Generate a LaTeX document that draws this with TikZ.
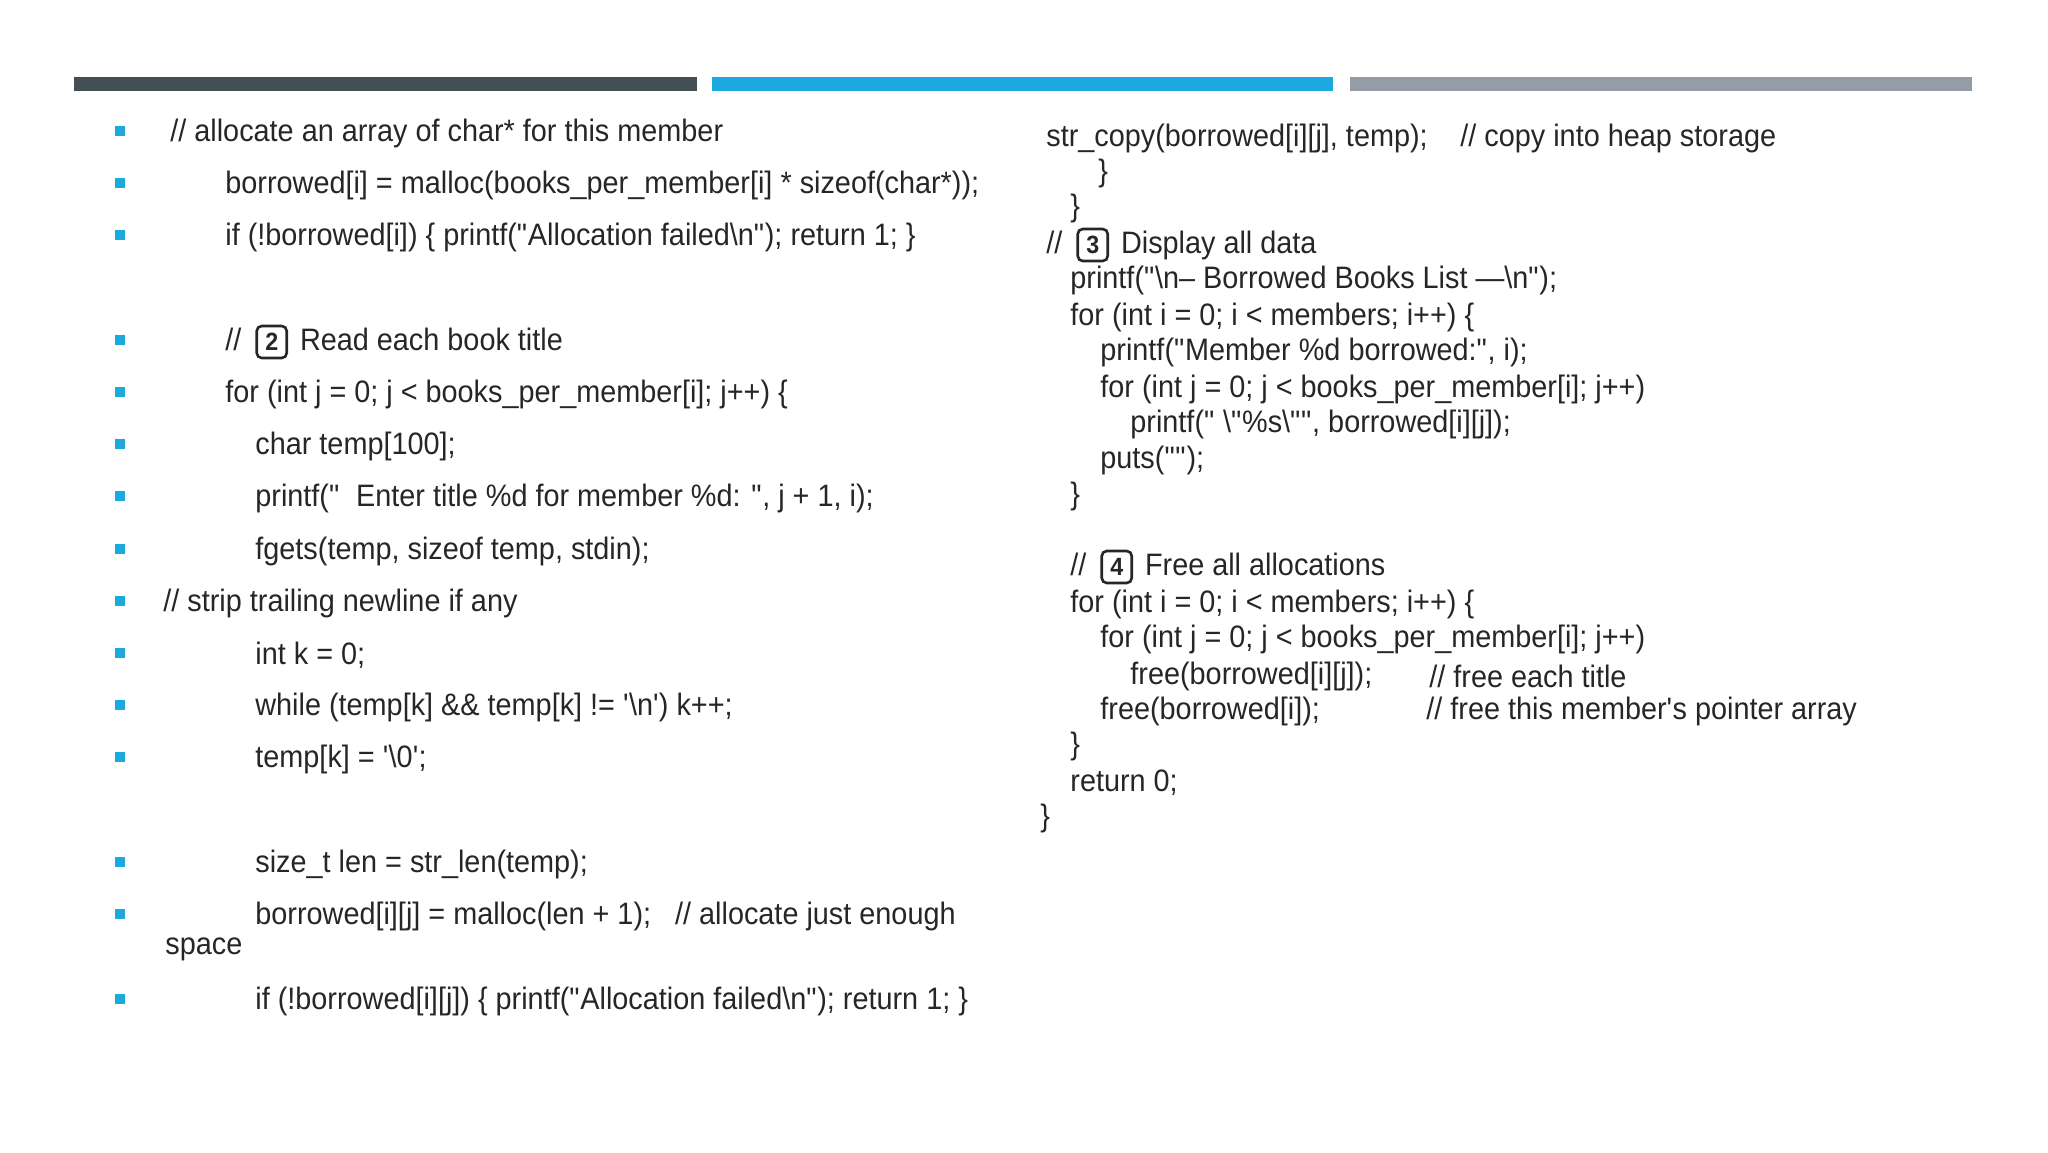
\documentclass[tikz,border=0pt]{standalone}
\usepackage{fontspec}
\setmainfont{Liberation Sans}[FakeStretch=0.93]
\definecolor{bblue}{HTML}{1CA9E0}
\definecolor{bdark}{HTML}{434E55}
\definecolor{bgray}{HTML}{949CA5}
\definecolor{tx}{HTML}{262626}
\newcommand{\q}{\textquotedbl}
\newcommand{\sq}{\textquotesingle}
\newcommand{\kc}[1]{\hspace{3pt}\tikz[baseline=(k.base)]\node[draw=tx,line width=1.3pt,rounded corners=2.5pt,inner sep=1.5pt,minimum width=15pt,minimum height=16pt,font=\bfseries\fontsize{12.5}{12}\selectfont](k){#1};\hspace{2pt}}
\begin{document}
\begin{tikzpicture}[x=0.5pt,y=-0.5pt,
  ln/.style={anchor=west,inner sep=0pt,font=\fontsize{15.5}{17}\selectfont,text=tx},
  bul/.style={fill=bblue,minimum size=5pt,inner sep=0pt}]
\useasboundingbox (0,0) rectangle (2048,1152);
\fill[bdark] (74,77) rectangle (697,91);
\fill[bblue] (712,77) rectangle (1333,91);
\fill[bgray] (1350,77) rectangle (1972,91);
% bullets
\foreach \y [count=\i] in {131,183,235,340,392,444,496,549,601,653,705,757,862,914,999}
  \node[bul] (b\i) at (120,\y) {};
\begin{scope}[yshift=-1pt]
% left column
\node[ln] (l1) at (170,131) {// allocate an array of char* for this member};
\node[ln] (l2) at (225,183) {borrowed[i] = malloc(books\_per\_member[i] * sizeof(char*));};
\node[ln] (l3) at (225,235) {if (!borrowed[i]) \{ printf(\q Allocation failed\textbackslash n\q); return 1; \}};
\node[ln] (l4) at (225,340) {// \kc{2}\ Read each book title};
\node[ln] (l5) at (225,392) {for (int j = 0; j < books\_per\_member[i]; j++) \{};
\node[ln] (l6) at (255,444) {char temp[100];};
\node[ln] (l7) at (255,496) {printf(\q\ \ Enter title \%d for member \%d: \q, j + 1, i);};
\node[ln] (l8) at (255,549) {fgets(temp, sizeof temp, stdin);};
\node[ln] (l9) at (163,601) {// strip trailing newline if any};
\node[ln] (l10) at (255,653) {int k = 0;};
\node[ln] (l11) at (255,705) {while (temp[k] \&\& temp[k] != \sq\textbackslash n\sq) k++;};
\node[ln] (l12) at (255,757) {temp[k] = \sq\textbackslash 0\sq;};
\node[ln] (l13) at (255,862) {size\_t len = str\_len(temp);};
\node[ln] (l14) at (255,914) {borrowed[i][j] = malloc(len + 1);\ \ \ // allocate just enough};
\node[ln] (l15) at (165,947) {space};
\node[ln] (l16) at (255,999) {if (!borrowed[i][j]) \{ printf(\q Allocation failed\textbackslash n\q); return 1; \}};
% right column
\node[ln] (r1) at (1046,136) {str\_copy(borrowed[i][j], temp);};
\node[ln] (r1c) at (1460,136) {// copy into heap storage};
\node[ln] (r2) at (1098,171) {\}};
\node[ln] (r3) at (1070,206) {\}};
\node[ln] (r4) at (1046,243) {// \kc{3}\ Display all data};
\node[ln] (r5) at (1070,278) {printf(\q\textbackslash n\textendash\ Borrowed Books List \textemdash\textbackslash n\q);};
\node[ln] (r6) at (1070,315) {for (int i = 0; i < members; i++) \{};
\node[ln] (r7) at (1100,350) {printf(\q Member \%d borrowed:\q, i);};
\node[ln] (r8) at (1100,387) {for (int j = 0; j < books\_per\_member[i]; j++)};
\node[ln] (r9) at (1130,422) {printf(\q\ \textbackslash\q\%s\textbackslash\q\q, borrowed[i][j]);};
\node[ln] (r10) at (1100,458) {puts(\q\q);};
\node[ln] (r11) at (1070,494) {\}};
\node[ln] (r12) at (1070,565) {// \kc{4}\ Free all allocations};
\node[ln] (r13) at (1070,602) {for (int i = 0; i < members; i++) \{};
\node[ln] (r14) at (1100,637) {for (int j = 0; j < books\_per\_member[i]; j++)};
\node[ln] (r15) at (1130,674) {free(borrowed[i][j]);};
\node[ln] (r15c) at (1429,674) {// free each title};
\node[ln] (r16) at (1100,709) {free(borrowed[i]);};
\node[ln] (r16c) at (1426,709) {// free this member\sq s pointer array};
\node[ln] (r17) at (1070,744) {\}};
\node[ln] (r18) at (1070,781) {return 0;};
\node[ln] (r19) at (1040,816) {\}};
\end{scope}
\end{tikzpicture}
\end{document}
